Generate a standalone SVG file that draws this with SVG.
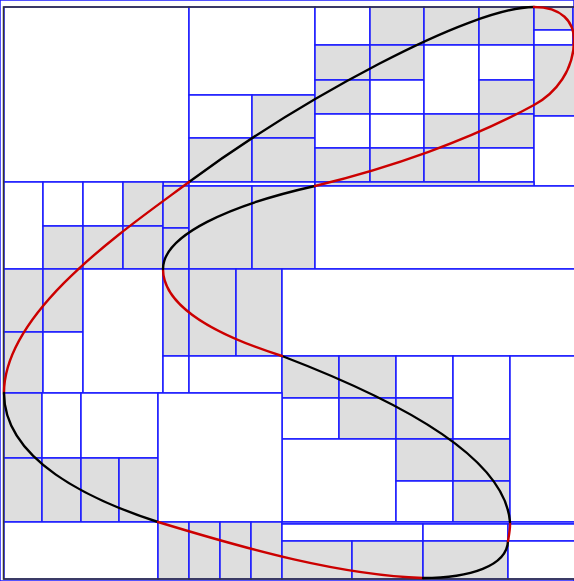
<svg xmlns="http://www.w3.org/2000/svg" width="574" height="581" viewBox="0 0 574 581">
<style>
rect{stroke:#1a1aff;stroke-width:1.5}
.g{fill:#dedede}
.w{fill:#ffffff}
.frame{fill:none;stroke:#333;stroke-width:1.5}
.k{fill:none;stroke:#000;stroke-width:2.4;stroke-linecap:round}
.r{fill:none;stroke:#cc0000;stroke-width:2.4;stroke-linecap:round}
</style>
<rect x="0" y="0" width="574" height="581" fill="#fff" stroke="none"/>
<g id="cells">
<rect class="w" x="4" y="7" width="185" height="175"/>
<rect class="w" x="189" y="7" width="126" height="88"/>
<rect class="w" x="189" y="95" width="63" height="43"/>
<rect class="g" x="252" y="95" width="63" height="43"/>
<rect class="g" x="189" y="138" width="63" height="44"/>
<rect class="g" x="252" y="138" width="63" height="44"/>
<rect class="w" x="315" y="7" width="55" height="38"/>
<rect class="g" x="315" y="45" width="55" height="35"/>
<rect class="g" x="315" y="80" width="55" height="34"/>
<rect class="w" x="315" y="114" width="55" height="34"/>
<rect class="g" x="315" y="148" width="55" height="34"/>
<rect class="g" x="370" y="7" width="54" height="38"/>
<rect class="g" x="370" y="45" width="54" height="35"/>
<rect class="w" x="370" y="80" width="54" height="34"/>
<rect class="w" x="370" y="114" width="54" height="34"/>
<rect class="g" x="370" y="148" width="54" height="34"/>
<rect class="g" x="424" y="7" width="55" height="38"/>
<rect class="w" x="424" y="45" width="55" height="69"/>
<rect class="g" x="424" y="114" width="55" height="34"/>
<rect class="g" x="424" y="148" width="55" height="34"/>
<rect class="g" x="479" y="7" width="55" height="38"/>
<rect class="w" x="479" y="45" width="55" height="35"/>
<rect class="g" x="479" y="80" width="55" height="34"/>
<rect class="g" x="479" y="114" width="55" height="34"/>
<rect class="w" x="479" y="148" width="55" height="34"/>
<rect class="g" x="534" y="7" width="39" height="23"/>
<rect class="w" x="534" y="30" width="39" height="15"/>
<rect class="g" x="573" y="7" width="6" height="38"/>
<rect class="g" x="534" y="45" width="45" height="71"/>
<rect class="w" x="534" y="116" width="45" height="70"/>
<rect class="g" x="163" y="182" width="26" height="4"/>
<rect class="w" x="189" y="182" width="126" height="4"/>
<rect class="g" x="315" y="182" width="219" height="4"/>
<rect class="w" x="4" y="182" width="39" height="87"/>
<rect class="w" x="43" y="182" width="40" height="44"/>
<rect class="w" x="83" y="182" width="40" height="44"/>
<rect class="g" x="123" y="182" width="40" height="44"/>
<rect class="g" x="43" y="226" width="40" height="43"/>
<rect class="g" x="83" y="226" width="40" height="43"/>
<rect class="g" x="123" y="226" width="40" height="43"/>
<rect class="g" x="163" y="186" width="26" height="42"/>
<rect class="g" x="163" y="228" width="26" height="41"/>
<rect class="g" x="189" y="186" width="63" height="83"/>
<rect class="g" x="252" y="186" width="63" height="83"/>
<rect class="w" x="315" y="186" width="264" height="83"/>
<rect class="g" x="4" y="269" width="39" height="63"/>
<rect class="g" x="4" y="332" width="39" height="61"/>
<rect class="g" x="43" y="269" width="40" height="63"/>
<rect class="w" x="43" y="332" width="40" height="61"/>
<rect class="w" x="83" y="269" width="80" height="124"/>
<rect class="g" x="163" y="269" width="26" height="87"/>
<rect class="w" x="163" y="356" width="26" height="37"/>
<rect class="g" x="189" y="269" width="47" height="87"/>
<rect class="g" x="236" y="269" width="46" height="87"/>
<rect class="w" x="189" y="356" width="93" height="37"/>
<rect class="w" x="282" y="269" width="297" height="87"/>
<rect class="g" x="282" y="356" width="57" height="42"/>
<rect class="g" x="339" y="356" width="57" height="42"/>
<rect class="w" x="282" y="398" width="57" height="41"/>
<rect class="g" x="339" y="398" width="57" height="41"/>
<rect class="w" x="396" y="356" width="57" height="42"/>
<rect class="g" x="396" y="398" width="57" height="41"/>
<rect class="w" x="453" y="356" width="57" height="83"/>
<rect class="w" x="282" y="439" width="114" height="83"/>
<rect class="g" x="396" y="439" width="57" height="42"/>
<rect class="g" x="453" y="439" width="57" height="42"/>
<rect class="w" x="396" y="481" width="57" height="41"/>
<rect class="g" x="453" y="481" width="57" height="41"/>
<rect class="w" x="510" y="356" width="69" height="166"/>
<rect class="g" x="4" y="393" width="38" height="65"/>
<rect class="w" x="42" y="393" width="39" height="65"/>
<rect class="w" x="81" y="393" width="77" height="65"/>
<rect class="g" x="4" y="458" width="38" height="64"/>
<rect class="g" x="42" y="458" width="39" height="64"/>
<rect class="g" x="81" y="458" width="38" height="64"/>
<rect class="g" x="119" y="458" width="39" height="64"/>
<rect class="w" x="4" y="522" width="154" height="57"/>
<rect class="w" x="158" y="393" width="124" height="129"/>
<rect class="g" x="158" y="522" width="31" height="57"/>
<rect class="g" x="189" y="522" width="31" height="57"/>
<rect class="g" x="220" y="522" width="31" height="57"/>
<rect class="g" x="251" y="522" width="31" height="57"/>
<rect class="w" x="282" y="522" width="297" height="2"/>
<rect class="w" x="282" y="524" width="141" height="17"/>
<rect class="w" x="423" y="524" width="85" height="17"/>
<rect class="w" x="508" y="524" width="71" height="17"/>
<rect class="g" x="282" y="541" width="70" height="38"/>
<rect class="g" x="352" y="541" width="71" height="38"/>
<rect class="g" x="423" y="541" width="85" height="38"/>
<rect class="w" x="508" y="541" width="71" height="38"/>
</g>
<rect class="frame" x="3.5" y="7" width="573" height="572"/>
<g id="curve">
<path class="k" d="M534,7 C470,7 300,100 189,182"/>
<path class="r" d="M189,182 C130,226 4,310 4,393"/>
<path class="k" d="M4,393 C4,460 90,500 158,522"/>
<path class="r" d="M158,522 C250,550 340,575 423,578"/>
<path class="k" d="M423,578 C470,578 507,566 508,541"/>
<path class="r" d="M508,541 C509,535 510.5,528 510,522"/>
<path class="k" d="M510,522 C505,460 410,405 282,356"/>
<path class="r" d="M282,356 C200,330 163,300 163,269"/>
<path class="k" d="M163,269 C163,235 230,205 315,186"/>
<path class="r" d="M315,186 C390,168 470,140 534,105 C556,93 574,70 574,40 C574,22 562,7 534,7"/>
</g>
</svg>
